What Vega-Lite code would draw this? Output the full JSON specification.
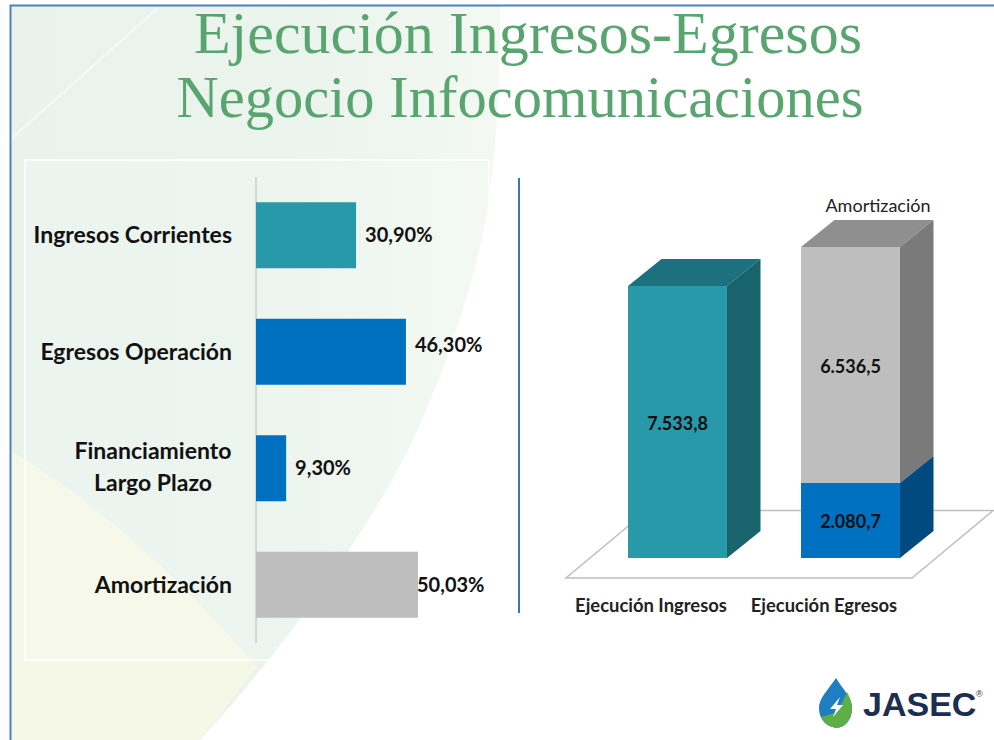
{
"$schema":"https://vega.github.io/schema/vega-lite/v6.json",
"width":994,"height":740,"padding":0,
"autosize":{"type":"fit","contains":"padding"},
"background":"#ffffff",
"view":{"stroke":null},
"datasets":{
"izquierda":[
{"categoria":"Ingresos Corrientes","valor":30.9,"etiqueta":"30,90%"},
{"categoria":"Egresos Operación","valor":46.3,"etiqueta":"46,30%"},
{"categoria":"Financiamiento\nLargo Plazo","valor":9.3,"etiqueta":"9,30%"},
{"categoria":"Amortización","valor":50.03,"etiqueta":"50,03%"}
],
"derecha":[
{"ejecucion":"Ejecución Ingresos","rubro":"Ingresos","inicio":0,"fin":7533.8,"medio":3766.9,"etiqueta":"7.533,8"},
{"ejecucion":"Ejecución Egresos","rubro":"Operación","inicio":0,"fin":2080.7,"medio":1040.35,"etiqueta":"2.080,7"},
{"ejecucion":"Ejecución Egresos","rubro":"Amortización","inicio":2080.7,"fin":8617.2,"medio":5348.95,"etiqueta":"6.536,5"}
],
"uno":[{"elemento":"decoracion"}]
},
"layer":[
{"data":{"name":"uno"},"mark":{"type":"point","filled":true,"size":4,"strokeWidth":0,"opacity":1,
"shape":"M10,6 L500,6 C500,80 498,130 490,190 C482,260 450,360 413,440 C385,500 310,620 200,740 L10,740 Z",
"fill":{"gradient":"linear","x1":0,"y1":0,"x2":1,"y2":0,"stops":[{"offset":0,"color":"#E9F3EC"},{"offset":0.6,"color":"#EBF4ED"},{"offset":1,"color":"#F3F8F2"}]}},
"encoding":{"x":{"value":0},"y":{"value":0}}},
{"data":{"name":"uno"},"mark":{"type":"point","filled":true,"size":4,"strokeWidth":0,"opacity":1,"fill":"#F5F8E7",
"shape":"M10,450 C110,510 190,590 257,667 L200,740 L10,740 Z"},
"encoding":{"x":{"value":0},"y":{"value":0}}},
{"data":{"name":"uno"},"mark":{"type":"point","filled":false,"size":4,"opacity":1,"stroke":"#ffffff","strokeOpacity":0.45,"strokeWidth":3,
"shape":"M12,138 L158,8"},
"encoding":{"x":{"value":0},"y":{"value":0}}},
{"data":{"name":"uno"},"mark":{"type":"rect","fill":"#ffffff","fillOpacity":0.12,"stroke":"#ffffff","strokeWidth":1.5},
"encoding":{"x":{"value":25},"x2":{"value":489},"y":{"value":160},"y2":{"value":660}}},
{"data":{"name":"uno"},"mark":{"type":"rect","fill":null,"stroke":"#4F81BD","strokeWidth":2},
"encoding":{"x":{"value":10.5},"x2":{"value":1010},"y":{"value":5.5},"y2":{"value":760}}},
{"data":{"name":"uno"},"mark":{"type":"rule","stroke":"#4472B4","strokeWidth":2},
"encoding":{"x":{"value":519},"y":{"value":178},"y2":{"value":613}}},
{"data":{"values":[{"linea":"Ejecución Ingresos-Egresos"}]},"mark":{"type":"text","font":"Liberation Serif","fontSize":60,"align":"center","baseline":"alphabetic","fill":"#58A56F"},
"encoding":{"text":{"field":"linea"},"x":{"value":528},"y":{"value":53}}},
{"data":{"values":[{"linea":"Negocio Infocomunicaciones"}]},"mark":{"type":"text","font":"Liberation Serif","fontSize":58.5,"align":"center","baseline":"alphabetic","fill":"#58A56F"},
"encoding":{"text":{"field":"linea"},"x":{"value":520},"y":{"value":117}}},
{"data":{"name":"izquierda"},
"encoding":{"y":{"field":"categoria","type":"nominal","sort":null,"axis":null,"scale":{"range":[177,643],"paddingInner":0.434,"paddingOuter":0.217}},
"x":{"field":"valor","type":"quantitative","axis":null,"scale":{"domain":[0,50.03],"range":[256,418],"nice":false}}},
"layer":[
{"mark":{"type":"rule","stroke":"#D2D5D2","strokeWidth":1},"encoding":{"y":{"value":177},"y2":{"value":643},"x":{"datum":0,"type":"quantitative","scale":{"domain":[0,50.03],"range":[256,418],"nice":false},"axis":null}}},
{"mark":{"type":"bar","opacity":1},"encoding":{"color":{"field":"categoria","type":"nominal","legend":null,"scale":{"domain":["Ingresos Corrientes","Egresos Operación","Financiamiento\nLargo Plazo","Amortización"],"range":["#2899A9","#0070C0","#0070C0","#BEBEBE"]}}}},
{"transform":[{"filter":"datum.valor!=9.3"}],"mark":{"type":"text","font":"Lato","fontWeight":"bold","fontSize":23,"align":"right","baseline":"middle","dx":-24,"dy":1,"fill":"#111111"},
"encoding":{"text":{"field":"categoria"},"x":{"datum":0,"type":"quantitative","scale":{"domain":[0,50.03],"range":[256,418],"nice":false},"axis":null}}},
{"transform":[{"filter":"datum.valor==9.3"}],"mark":{"type":"text","font":"Lato","fontWeight":"bold","fontSize":23,"align":"center","baseline":"middle","dx":-103,"dy":-16,"lineBreak":"\n","lineHeight":32,"fill":"#111111"},
"encoding":{"text":{"field":"categoria"},"x":{"datum":0,"type":"quantitative","scale":{"domain":[0,50.03],"range":[256,418],"nice":false},"axis":null}}},
{"transform":[{"filter":"datum.valor==30.9||datum.valor==9.3"}],"mark":{"type":"text","font":"Lato","fontWeight":"bold","fontSize":20,"align":"left","baseline":"middle","dx":9,"dy":1,"fill":"#111111"},"encoding":{"text":{"field":"etiqueta"}}},
{"transform":[{"filter":"datum.valor==46.3"}],"mark":{"type":"text","font":"Lato","fontWeight":"bold","fontSize":20,"align":"left","baseline":"middle","dx":9,"dy":-6,"fill":"#111111"},"encoding":{"text":{"field":"etiqueta"}}},
{"transform":[{"filter":"datum.valor==50.03"}],"mark":{"type":"text","font":"Lato","fontWeight":"bold","fontSize":20,"align":"left","baseline":"middle","dx":-1,"dy":1,"fill":"#111111"},"encoding":{"text":{"field":"etiqueta"}}}
]},
{"data":{"name":"derecha"},
"encoding":{"x":{"field":"ejecucion","type":"nominal","sort":null,"axis":null,"scale":{"range":[591,937],"paddingInner":0.428,"paddingOuter":0.214}}},
"layer":[
{"transform":[{"filter":"datum.rubro=='Ingresos'"}],"mark":{"type":"point","filled":true,"size":4,"opacity":1,"fill":"#ffffff","stroke":"#BFBFBF","strokeWidth":1.5,"shape":"M-111.5,20 L234.5,20 L315.5,-47.5 L-30.5,-47.5 Z"},
"encoding":{"y":{"field":"inicio","type":"quantitative","axis":null,"scale":{"domain":[0,8617.2],"range":[558,247],"nice":false}}}},
{"mark":{"type":"bar","opacity":1},"encoding":{
"y":{"field":"fin","type":"quantitative","axis":null,"scale":{"domain":[0,8617.2],"range":[558,247],"nice":false}},"y2":{"field":"inicio"},
"color":{"field":"rubro","type":"nominal","legend":null,"scale":{"domain":["Ingresos","Operación","Amortización"],"range":["#2899A9","#0070C0","#BEBEBE"]}}}},
{"transform":[{"filter":"datum.rubro=='Ingresos'"}],"mark":{"type":"point","filled":true,"size":4,"opacity":1,"strokeWidth":0,"fill":"#1B717D","shape":"M-49.5,0 L49.5,0 L83,-27 L-16,-27 Z"},
"encoding":{"y":{"field":"fin","type":"quantitative","axis":null,"scale":{"domain":[0,8617.2],"range":[558,247],"nice":false}}}},
{"transform":[{"filter":"datum.rubro=='Ingresos'"}],"mark":{"type":"point","filled":true,"size":4,"opacity":1,"strokeWidth":0,"fill":"#19636D","shape":"M49.5,0 L83,-27 L83,245 L49.5,272 Z"},
"encoding":{"y":{"field":"fin","type":"quantitative","axis":null,"scale":{"domain":[0,8617.2],"range":[558,247],"nice":false}}}},
{"transform":[{"filter":"datum.rubro=='Amortización'"}],"mark":{"type":"point","filled":true,"size":4,"opacity":1,"strokeWidth":0,"fill":"#8F8F8F","shape":"M-49.5,0 L49.5,0 L83,-27 L-16,-27 Z"},
"encoding":{"y":{"field":"fin","type":"quantitative","axis":null,"scale":{"domain":[0,8617.2],"range":[558,247],"nice":false}}}},
{"transform":[{"filter":"datum.rubro=='Amortización'"}],"mark":{"type":"point","filled":true,"size":4,"opacity":1,"strokeWidth":0,"fill":"#7A7A7A","shape":"M49.5,0 L83,-27 L83,209 L49.5,236 Z"},
"encoding":{"y":{"field":"fin","type":"quantitative","axis":null,"scale":{"domain":[0,8617.2],"range":[558,247],"nice":false}}}},
{"transform":[{"filter":"datum.rubro=='Operación'"}],"mark":{"type":"point","filled":true,"size":4,"opacity":1,"strokeWidth":0,"fill":"#004A80","shape":"M49.5,0 L83,-27 L83,48 L49.5,75 Z"},
"encoding":{"y":{"field":"fin","type":"quantitative","axis":null,"scale":{"domain":[0,8617.2],"range":[558,247],"nice":false}}}},
{"mark":{"type":"text","font":"Lato","fontWeight":"bold","fontSize":18,"align":"center","baseline":"middle","dy":3,"fill":"#111111"},
"encoding":{"text":{"field":"etiqueta"},"y":{"field":"medio","type":"quantitative","axis":null,"scale":{"domain":[0,8617.2],"range":[558,247],"nice":false}}}},
{"transform":[{"filter":"datum.inicio==0"}],"mark":{"type":"text","font":"Lato","fontWeight":"bold","fontSize":18.4,"align":"center","baseline":"middle","dx":-26.5,"dy":48,"fill":"#222222"},
"encoding":{"text":{"field":"ejecucion"},"y":{"field":"inicio","type":"quantitative","axis":null,"scale":{"domain":[0,8617.2],"range":[558,247],"nice":false}}}},
{"transform":[{"filter":"datum.rubro=='Amortización'"}],"mark":{"type":"text","font":"Lato","fontSize":18,"align":"center","baseline":"middle","dx":27.5,"dy":-40,"fill":"#222222"},
"encoding":{"text":{"field":"rubro"},"y":{"field":"fin","type":"quantitative","axis":null,"scale":{"domain":[0,8617.2],"range":[558,247],"nice":false}}}}
]},
{"data":{"name":"uno"},"mark":{"type":"point","filled":true,"size":4,"opacity":1,"strokeWidth":0,"fill":"#1F7DC1","shape":"M836,678 C845,692 852,698 852,708 C852,720 845,727 837,728 C827,727 819,720 819,708 C819,698 828,690 836,678 Z"},"encoding":{"x":{"value":0},"y":{"value":0}}},
{"data":{"name":"uno"},"mark":{"type":"point","filled":true,"size":4,"opacity":1,"strokeWidth":0,"fill":"#5DAF45","shape":"M847,692 C851,700 852,704 852,708 C852,720 845,727 837,728 C829,727 824,723 821,717 L838,712 Z"},"encoding":{"x":{"value":0},"y":{"value":0}}},
{"data":{"name":"uno"},"mark":{"type":"point","filled":true,"size":4,"opacity":1,"strokeWidth":0,"fill":"#ffffff","shape":"M840,697 L830,709 L836,709 L833,717 L843,705 L837,705 Z"},"encoding":{"x":{"value":0},"y":{"value":0}}},
{"data":{"values":[{"marca":"JASEC"}]},"mark":{"type":"text","font":"Liberation Sans","fontWeight":"bold","fontSize":34,"align":"left","baseline":"alphabetic","fill":"#1C2E52"},"encoding":{"text":{"field":"marca"},"x":{"value":863},"y":{"value":716}}},
{"data":{"values":[{"marca":"®"}]},"mark":{"type":"text","font":"Liberation Sans","fontSize":9,"align":"left","baseline":"alphabetic","fill":"#1C2E52"},"encoding":{"text":{"field":"marca"},"x":{"value":976},"y":{"value":697}}}
],
"resolve":{"scale":{"x":"independent","y":"independent","color":"independent"}}
}
